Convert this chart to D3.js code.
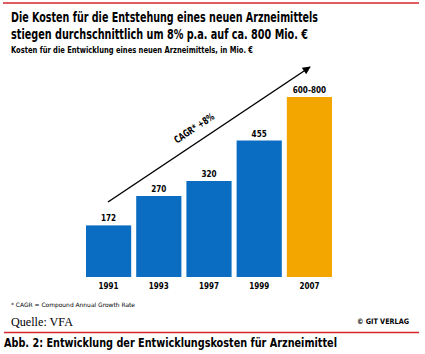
<!DOCTYPE html>
<html>
<head>
<meta charset="utf-8">
<script src="https://cdn.jsdelivr.net/npm/d3@7"></script>
<style>
  body { margin: 0; background: #fff; }
  text { font-family: "DejaVu Sans Condensed", "Liberation Sans", sans-serif; }
</style>
</head>
<body>
<div id="chart"></div>
<script>
const years = ["1991", "1993", "1997", "1999", "2007"];
const costs = [172, 270, 320, 455, 600];
const valueLabels = ["172", "270", "320", "455", "600-800"];
const barColors = ["#0a6dc2", "#0a6dc2", "#0a6dc2", "#0a6dc2", "#f4a600"];

const W = 425, H = 354;
const svg = d3.select("#chart").append("svg")
    .attr("width", W)
    .attr("height", H);

// squeeze a text to a given width (source font is a condensed face)
function fit(sel, w) {
  return sel.attr("textLength", w).attr("lengthAdjust", "spacingAndGlyphs");
}

// frame lines
svg.append("line").attr("x1", 3).attr("x2", 419).attr("y1", 3).attr("y2", 3)
  .attr("stroke", "#d7262b").attr("stroke-width", 1.5);
svg.append("line").attr("x1", 4).attr("x2", 419).attr("y1", 332.5).attr("y2", 332.5)
  .attr("stroke", "#d7262b").attr("stroke-width", 1.5);

// titles
fit(svg.append("text").attr("x", 11).attr("y", 22)
  .style("font-size", "13.5px").style("font-weight", "bold")
  .text("Die Kosten für die Entstehung eines neuen Arzneimittels"), 307);
fit(svg.append("text").attr("x", 11).attr("y", 39)
  .style("font-size", "13.5px").style("font-weight", "bold")
  .text("stiegen durchschnittlich um 8% p.a. auf ca. 800 Mio. €"), 297);
fit(svg.append("text").attr("x", 11).attr("y", 53)
  .style("font-size", "8.5px").style("font-weight", "bold")
  .text("Kosten für die Entwicklung eines neuen Arzneimittels, in Mio. €"), 242);

// bars
const x = d3.scaleBand().domain(years).range([85, 333]).paddingInner(0.1).paddingOuter(0.02);
const y = d3.scaleLinear().domain([0, 600]).range([277, 97]);

const g = svg.append("g");
g.selectAll(".bar").data(years).enter().append("rect")
  .attr("class", "bar")
  .attr("x", d => x(d))
  .attr("y", (d, i) => y(costs[i]))
  .attr("width", x.bandwidth())
  .attr("height", (d, i) => y(0) - y(costs[i]))
  .attr("fill", (d, i) => barColors[i]);

g.selectAll(".val").data(years).enter().append("text")
  .attr("class", "val")
  .attr("x", d => x(d) + x.bandwidth() / 2)
  .attr("y", (d, i) => y(costs[i]) - 4)
  .attr("text-anchor", "middle")
  .style("font-size", "9.5px").style("font-weight", "bold")
  .each(function(d, i) {
    d3.select(this).text(valueLabels[i]);
    const w = this.getComputedTextLength() * 0.85;
    fit(d3.select(this), w);
  });

const xAxis = g.append("g")
  .attr("transform", "translate(0," + y(0) + ")")
  .call(d3.axisBottom(x).tickSize(0).tickPadding(5));
xAxis.select(".domain").remove();
xAxis.selectAll("text")
  .style("font-family", "'DejaVu Sans Condensed', sans-serif")
  .style("font-size", "9.5px").style("font-weight", "bold").attr("fill", "#000")
  .attr("textLength", 20).attr("lengthAdjust", "spacingAndGlyphs");

// CAGR arrow
svg.append("defs").append("marker")
  .attr("id", "arr").attr("viewBox", "0 0 10 10")
  .attr("refX", 9).attr("refY", 5)
  .attr("markerWidth", 10).attr("markerHeight", 8)
  .attr("markerUnits", "userSpaceOnUse")
  .attr("orient", "auto")
  .append("path").attr("d", "M0,0 L10,5 L0,10 Z").attr("fill", "#000");

const a0 = [108, 202], a1 = [310, 67];
svg.append("line")
  .attr("x1", a0[0]).attr("y1", a0[1]).attr("x2", a1[0]).attr("y2", a1[1])
  .attr("stroke", "#000").attr("stroke-width", 1.5)
  .attr("marker-end", "url(#arr)");
const ang = Math.atan2(a1[1] - a0[1], a1[0] - a0[0]) * 180 / Math.PI;
fit(svg.append("text")
  .attr("transform", "translate(196,131) rotate(" + ang + ")")
  .attr("text-anchor", "middle")
  .style("font-size", "10px").style("font-weight", "bold")
  .text("CAGR* +8%"), 46);

// footer
fit(svg.append("text").attr("x", 11).attr("y", 307)
  .style("font-size", "6px")
  .text("* CAGR = Compound Annual Growth Rate"), 124);
fit(svg.append("text").attr("x", 11).attr("y", 326)
  .style("font-family", "'Liberation Serif', 'DejaVu Serif', serif")
  .style("font-size", "12.5px")
  .text("Quelle: VFA"), 62);
fit(svg.append("text").attr("x", 409).attr("y", 324)
  .attr("text-anchor", "end")
  .style("font-size", "7.5px").style("font-weight", "bold")
  .text("© GIT VERLAG"), 52);
fit(svg.append("text").attr("x", 4).attr("y", 347)
  .style("font-size", "12px").style("font-weight", "bold")
  .text("Abb. 2: Entwicklung der Entwicklungskosten für Arzneimittel"), 333);
</script>
</body>
</html>
